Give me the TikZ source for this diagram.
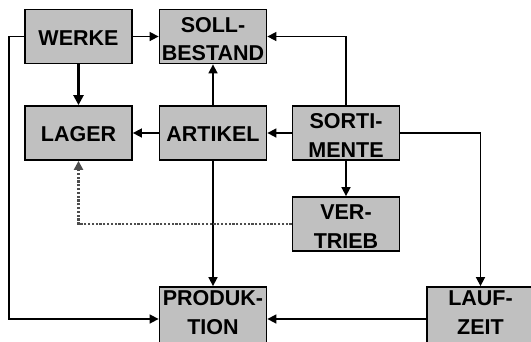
\documentclass[tikz,border=0pt]{standalone}
\usepackage{fontspec}
\setmainfont{Liberation Sans}
\usetikzlibrary{arrows.meta}
\definecolor{boxgray}{HTML}{C0C0C0}
\definecolor{dotgray}{HTML}{4D4D4D}
\tikzset{
  box/.style={draw=black, line width=1.8pt, fill=boxgray, minimum width=107pt, minimum height=54pt,
    inner sep=0pt, align=center, font=\fontsize{21.5}{28.5}\selectfont\bfseries,
    text height=48pt, text depth=0pt},
  onebox/.style={box, text height=17pt},
  lowbox/.style={box, minimum height=60pt, text height=34pt},
  arr/.style={line width=1.6pt, -{Triangle[length=9pt,width=9pt]}},
  thickarr/.style={line width=2.4pt, -{Triangle[length=10pt,width=10pt]}},
  dotarr/.style={line width=2.2pt, draw=dotgray, dash pattern=on 2.2pt off 1.6pt,
    -{Triangle[length=9pt,width=9pt,fill=dotgray,sep=0pt]}},
}
\begin{document}
\begin{tikzpicture}[x=1pt,y=-1pt]
\useasboundingbox (0,0) rectangle (531,341);
\node[onebox] (werke) at (78.5,36.5) {WERKE};
\node[box] (soll) at (213,36.5) {SOLL-\\BESTAND};
\node[onebox] (lager) at (78.5,133) {LAGER};
\node[onebox] (artikel) at (213,133) {ARTIKEL};
\node[box] (sort) at (346,133) {SORTI-\\MENTE};
\node[box] (vertrieb) at (346,224) {VER-\\TRIEB};
\node[lowbox] (produktion) at (213,317) {PRODUK-\\TION};
\node[lowbox] (laufzeit) at (480.5,317) {LAUF-\\ZEIT};
\coordinate (lefttop) at (9,36.5);
\draw[arr] (werke) -- (soll);
\draw[thickarr] (werke) -- (lager);
\draw[arr] (artikel) -- (soll);
\draw[arr] (artikel) -- (lager);
\draw[arr] (sort) -- (artikel);
\draw[arr] (sort.north) |- (soll.east);
\draw[arr] (sort) -- (vertrieb);
\draw[arr] (sort.east) -| (laufzeit.north);
\draw[arr] (artikel) -- (produktion);
\draw[arr] ([yshift=-2pt]laufzeit.west) -- ([yshift=-2pt]produktion.east);
\draw[arr] (werke.west) -- (lefttop) |- ([yshift=-2pt]produktion.west);
\draw[dotarr] (vertrieb.west) -| (lager.south);
\end{tikzpicture}
\end{document}
